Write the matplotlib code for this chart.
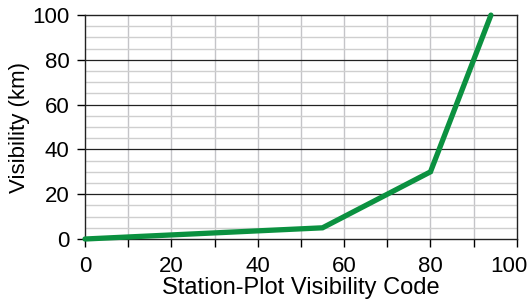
import matplotlib.pyplot as plt
import matplotlib.transforms as mtransforms
import numpy as np

# station-plot visibility code vs visibility (km)
codes = [0, 55, 80, 94]
vis_km = [0, 5, 30, 100]

x_ticks = [0, 20, 40, 60, 80, 100]
y_ticks = [0, 20, 40, 60, 80, 100]

plt.rcParams['font.family'] = ['Liberation Sans', 'DejaVu Sans']

fig = plt.figure(figsize=(5.29, 3.02), dpi=100)
ax = fig.add_axes([0.1607, 0.2086, 0.8163, 0.7414])

# grid: light vertical every 10, light horizontal every 5, dark every 20
for xv in np.arange(10, 100, 10):
    ax.axvline(xv, color='#c4c4c8', lw=1.0, zorder=1)
for yv in np.arange(5, 100, 5):
    if yv % 20 == 0:
        ax.axhline(yv, color='#222222', lw=0.9, zorder=2)
    else:
        ax.axhline(yv, color='#cfcfcf', lw=1.0, zorder=1)

ax.plot(codes, vis_km, color='#0b9140', lw=3.8, solid_capstyle='round',
        solid_joinstyle='miter', zorder=3, clip_on=False)

ax.set_xlim(0, 100)
ax.set_ylim(0, 100)
ax.set_xticks(np.arange(0, 101, 10))
ax.set_xticklabels([str(v) if v in x_ticks else '' for v in range(0, 101, 10)])
ax.set_yticks(y_ticks)
ax.tick_params(direction='out', length=6, width=1, labelsize=16)
ax.tick_params(axis='x', pad=6)
ax.tick_params(axis='y', pad=5)

# nudge the last x label inward so it stays on the canvas
last = ax.get_xticklabels()[-1]
last.set_transform(last.get_transform() +
                   mtransforms.ScaledTranslation(-8 / 100, 0, fig.dpi_scale_trans))

for s in ax.spines.values():
    s.set_color('#222222')
    s.set_linewidth(1.0)

ax.set_xlabel('Station-Plot Visibility Code', fontsize=17, labelpad=0)
ax.set_ylabel('Visibility (km)', fontsize=16, labelpad=2)

fig.savefig('out.png', dpi=100)
